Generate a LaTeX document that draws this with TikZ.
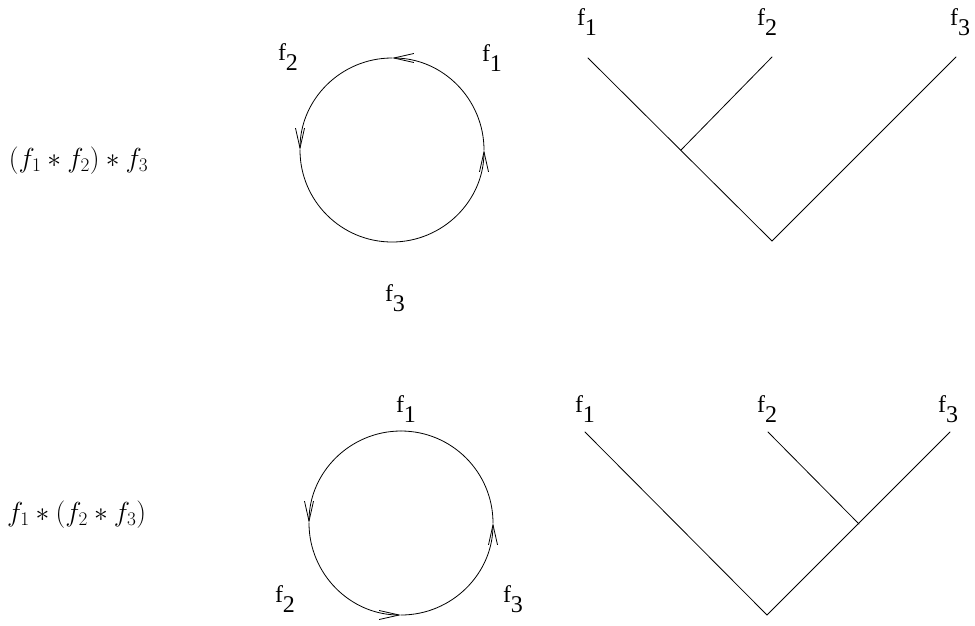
\documentclass[tikz,border=0pt]{standalone}
\usepackage{fix-cm}
\usepackage{fontspec}
\newfontfamily\tms{Liberation Serif}
\usetikzlibrary{arrows.meta}
\newcommand\flab[1]{{\tms\fontsize{24}{28}\selectfont f\raisebox{-10pt}{#1}}}
\newcommand\mlab[1]{{\fontsize{27.5}{31}\selectfont$#1$}}
\tikzset{
  ln/.style={line width=0.8pt, line cap=round},
  arr/.style={ln, -{Straight Barb[length=20pt,width=9pt,line width=0.8pt]}},
  lab/.style={anchor=base west, inner sep=0pt, outer sep=0pt},
}
\begin{document}
\begin{tikzpicture}[x=1pt,y=-1pt]
\useasboundingbox (0,0) rectangle (975,625);
% math labels
\node[lab] (m1) at (9,167) {\mlab{(f_1 * f_2) * f_3}};
\node[lab] (m2) at (7,521) {\mlab{f_1 * (f_2 * f_3)}};
% top circle
\coordinate (c1) at (392,150);
\draw[arr] (c1) ++(92,0) arc[start angle=0,end angle=-90,radius=92];
\draw[arr] (c1) ++(0,-92) arc[start angle=-90,end angle=-180,radius=92];
\draw[arr] (c1) ++(-92,0) arc[start angle=-180,end angle=-360,radius=92];
\node[lab] (a2) at (278,60) {\flab{2}};
\node[lab] (a1) at (482,61) {\flab{1}};
\node[lab] (a3) at (385,301) {\flab{3}};
% bottom circle
\coordinate (c2) at (401,523);
\draw[ln] (c2) ++(92,0) arc[start angle=0,end angle=-90,radius=92];
\draw[arr] (c2) ++(0,-92) arc[start angle=-90,end angle=-180,radius=92];
\draw[arr] (c2) ++(-92,0) arc[start angle=-180,end angle=-270,radius=92];
\draw[arr] (c2) ++(0,92) arc[start angle=-270,end angle=-360,radius=92];
\node[lab] (b1) at (396,412) {\flab{1}};
\node[lab] (b2) at (275,602) {\flab{2}};
\node[lab] (b3) at (503,602) {\flab{3}};
% top tree
\coordinate (t1) at (588,58);
\coordinate (t2) at (772,57);
\coordinate (t3) at (956,57);
\coordinate (tr) at (772,241);
\coordinate (tj) at (681,150);
\draw[ln] (t1) -- (tr) -- (t3);
\draw[ln] (t2) -- (tj);
\node[lab] (tl1) at (577,25) {\flab{1}};
\node[lab] (tl2) at (757,25) {\flab{2}};
\node[lab] (tl3) at (950,25) {\flab{3}};
% bottom tree
\coordinate (u1) at (585,432);
\coordinate (u2) at (768,432);
\coordinate (u3) at (950,432);
\coordinate (ur) at (767,615);
\coordinate (uj) at (859,524);
\draw[ln] (u1) -- (ur) -- (u3);
\draw[ln] (u2) -- (uj);
\node[lab] (ul1) at (575,412) {\flab{1}};
\node[lab] (ul2) at (757,412) {\flab{2}};
\node[lab] (ul3) at (938,412) {\flab{3}};
\end{tikzpicture}
\end{document}
